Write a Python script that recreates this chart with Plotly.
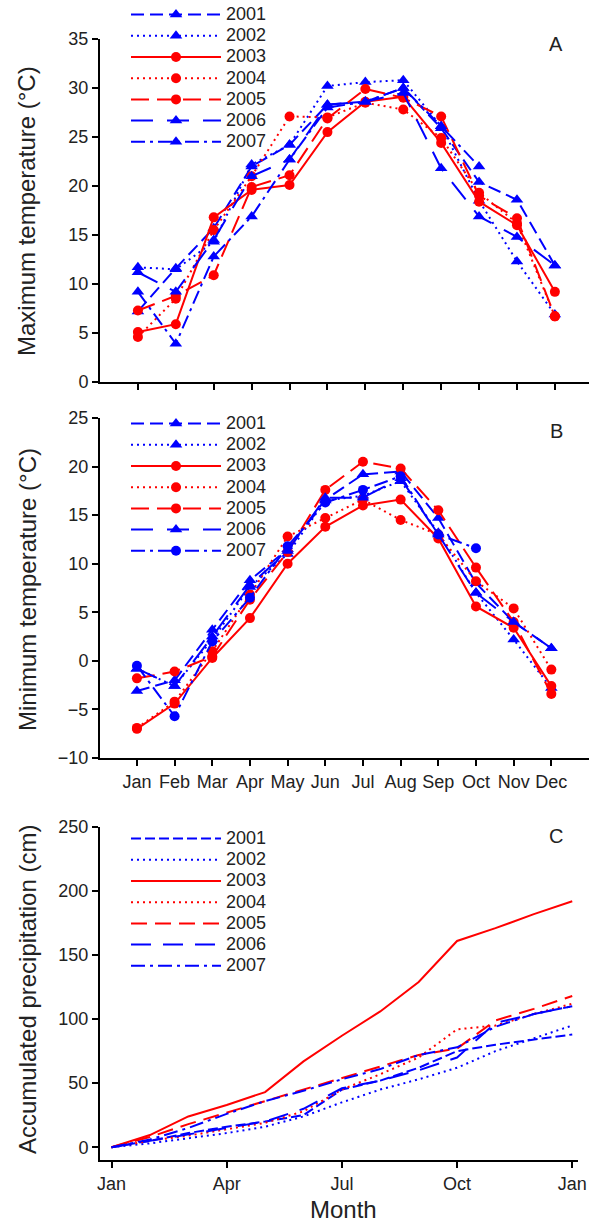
import plotly.graph_objects as go

# ---------------- data ----------------
months = ["Jan", "Feb", "Mar", "Apr", "May", "Jun", "Jul", "Aug", "Sep", "Oct", "Nov", "Dec"]
month_pos = [1, 2, 3, 4, 5, 6, 7, 8, 9, 10, 11, 12]
years = ["2001", "2002", "2003", "2004", "2005", "2006", "2007"]

# Panel A: maximum temperature (deg C)
tmax_2001 = [7.2, 11.6, 15.7, 22.0, 24.2, 28.3, 28.6, 30.0, 25.9, 20.4, 18.6, 11.9]
tmax_2002 = [11.7, 11.5, 14.3, 22.2, 24.2, 30.2, 30.6, 30.8, 26.1, 18.5, 12.3, 6.9]
tmax_2003 = [5.1, 5.9, 16.8, 19.6, 20.1, 25.5, 28.6, 29.1, 24.4, 18.4, 16.0, 9.2]
tmax_2004 = [4.6, 8.5, 15.5, 21.0, 27.1, 27.0, 28.5, 27.8, 24.9, 19.3, 16.2, 6.7]
tmax_2005 = [7.3, 8.8, 10.9, 19.9, 21.1, 26.9, 29.9, 29.0, 27.1, 19.0, 16.7, 6.7]
tmax_2006 = [11.2, 9.2, 14.5, 21.0, 22.7, 28.3, 28.6, 29.5, 21.8, 16.9, 14.8, 11.9]
tmax_2007 = [9.2, 3.9, 12.8, 16.9, 22.7, 28.0, 28.6, 30.0, 26.1, 22.0, None, None]

# Panel B: minimum temperature (deg C)
tmin_2001 = [-3.1, -2.0, 3.2, 8.3, 11.5, 16.6, 19.2, 19.5, 14.7, 8.0, 4.0, 1.3]
tmin_2002 = [-0.8, -2.6, 2.2, 7.6, 11.0, 16.5, 17.0, 18.5, 13.2, 7.0, 2.2, -2.8]
tmin_2003 = [-7.0, -4.4, 0.3, 4.4, 10.0, 13.8, 16.0, 16.6, 12.6, 5.6, 3.4, -2.6]
tmin_2004 = [-6.9, -4.2, 1.0, 6.8, 12.8, 14.7, 16.6, 14.5, 13.0, 8.2, 5.4, -0.9]
tmin_2005 = [-1.8, -1.1, 0.45, 6.3, 11.2, 17.6, 20.5, 19.8, 15.5, 9.6, 4.0, -3.4]
tmin_2006 = [-0.8, -2.6, 2.5, 7.8, 11.3, 16.8, 16.8, 18.8, 13.0, 7.0, 4.0, 1.3]
tmin_2007 = [-0.5, -5.7, 2.0, 6.5, 11.8, 16.3, 17.6, 19.0, 13.0, 11.6, None, None]

# Panel C: accumulated precipitation (cm), at month boundaries (0 = 1 Jan, 12 = next 1 Jan)
precip_pos = [0, 1, 2, 3, 4, 5, 6, 7, 8, 9, 10, 11, 12]
precip_ticks = [0, 3, 6, 9, 12]
precip_ticklabels = ["Jan", "Apr", "Jul", "Oct", "Jan"]
prec_2001 = [0, 5, 11, 16, 20, 25, 45, 52, 62, 75, 80, 84, 88]
prec_2002 = [0, 3, 7, 11, 16, 24, 35, 45, 53, 62, 75, 85, 95]
prec_2003 = [0, 9.5, 24, 33, 43, 67, 87, 106, 129, 161, 171, 182, 192]
prec_2004 = [0, 5, 9, 14, 19, 28, 45, 57, 70, 92, 95, 104, 112]
prec_2005 = [0, 8, 18, 27, 36, 45, 54, 63, 72, 77, 99, 108, 118]
prec_2006 = [0, 5, 10, 15, 20, 30, 46, 52, 60, 70, 97, 104, 110]
prec_2007 = [0, 6, 15, 26, 36, 44, 53, 61, 72, 78, 94, 104, 110]

tmax = [tmax_2001, tmax_2002, tmax_2003, tmax_2004, tmax_2005, tmax_2006, tmax_2007]
tmin = [tmin_2001, tmin_2002, tmin_2003, tmin_2004, tmin_2005, tmin_2006, tmin_2007]
prec = [prec_2001, prec_2002, prec_2003, prec_2004, prec_2005, prec_2006, prec_2007]

# ---------------- styles ----------------
BLUE = "#0000ff"
RED = "#ff0000"
colors = [BLUE, BLUE, RED, RED, RED, BLUE, BLUE]
dashes_T = ["13px,6px", "2px,4px", "solid", "2px,4px", "18px,8px", "22px,14px", "14px,5px,3px,5px"]
dashes_C = ["10px,4px", "2px,4px", "solid", "2px,4px", "16px,8px", "20px,12px", "14px,5px,3px,5px"]
sym_A = ["triangle-up", "triangle-up", "circle", "circle", "circle", "triangle-up", "triangle-up"]
sym_B = ["triangle-up", "triangle-up", "circle", "circle", "circle", "triangle-up", "circle"]

FONT = "Liberation Sans, Arial, Helvetica, sans-serif"
W, H = 589, 1226

fig = go.Figure()


def legname(y):
    return '<span style="font-size:18px">' + y + '</span>'


for i, y in enumerate(years):
    fig.add_trace(go.Scatter(
        x=month_pos, y=tmax[i], mode="lines+markers", name=legname(y),
        line=dict(color=colors[i], width=2, dash=dashes_T[i]),
        marker=dict(symbol=sym_A[i], size=10 if sym_A[i] == "circle" else 11, color=colors[i]),
        xaxis="x", yaxis="y", legend="legend", connectgaps=False))
for i, y in enumerate(years):
    fig.add_trace(go.Scatter(
        x=month_pos, y=tmin[i], mode="lines+markers", name=legname(y),
        line=dict(color=colors[i], width=2, dash=dashes_T[i]),
        marker=dict(symbol=sym_B[i], size=10 if sym_B[i] == "circle" else 11, color=colors[i]),
        xaxis="x2", yaxis="y2", legend="legend2", connectgaps=False))
for i, y in enumerate(years):
    fig.add_trace(go.Scatter(
        x=precip_pos, y=prec[i], mode="lines", name=legname(y),
        line=dict(color=colors[i], width=2, dash=dashes_C[i]),
        xaxis="x3", yaxis="y3", legend="legend3"))


def px_y(top_px):
    return 1 - top_px / H


axis_common = dict(showline=True, linecolor="black", linewidth=2, ticks="outside",
                   ticklen=6, tickwidth=2, tickcolor="black", showgrid=False,
                   zeroline=False, tickfont=dict(family=FONT, size=18, color="#222"),
                   fixedrange=True)

xl = 100 / W
fig.update_layout(
    width=W, height=H, margin=dict(l=0, r=0, t=0, b=0, autoexpand=False),
    paper_bgcolor="white", plot_bgcolor="white",
    font=dict(family=FONT, color="#222"),
    xaxis=dict(domain=[xl, 1.0], range=[0.0, 12.9], tickvals=month_pos,
               showticklabels=False, anchor="y", **axis_common),
    yaxis=dict(domain=[px_y(382), px_y(39)], range=[0, 35], dtick=5,
               anchor="x", **axis_common),
    xaxis2=dict(domain=[xl, 1.0], range=[0.02, 13.0], tickvals=month_pos,
                ticktext=months, anchor="y2", **axis_common),
    yaxis2=dict(domain=[px_y(758), px_y(418)], range=[-10, 25], dtick=5,
                anchor="x2", **axis_common),
    xaxis3=dict(domain=[xl, 578 / W], range=[-0.3, 12.15], tickvals=precip_ticks,
                ticktext=precip_ticklabels, anchor="y3", **axis_common),
    yaxis3=dict(domain=[px_y(1160), px_y(827)], range=[-10, 250], dtick=50,
                anchor="x3", **axis_common),
)

leg_common = dict(xanchor="left", yanchor="top", bgcolor="rgba(0,0,0,0)",
                  font=dict(family=FONT, size=14, color="#222"),
                  itemwidth=90, tracegroupgap=0, itemclick=False, itemdoubleclick=False)
fig.update_layout(
    legend=dict(x=126 / W, y=px_y(-1), **leg_common),
    legend2=dict(x=126 / W, y=px_y(408), **leg_common),
    legend3=dict(x=126 / W, y=px_y(823), **leg_common),
)

ann = []
for letter, ytop in [("A", 44), ("B", 431), ("C", 836)]:
    ann.append(dict(text=letter, x=556 / W, y=px_y(ytop), xref="paper", yref="paper",
                    showarrow=False, xanchor="center", yanchor="middle",
                    font=dict(family=FONT, size=20, color="#222")))
for title, ymid in [("Maximum temperature (°C)", 211), ("Minimum temperature (°C)", 590),
                    ("Accumulated precipitation (cm)", 990)]:
    ann.append(dict(text=title, x=27 / W, y=px_y(ymid), xref="paper", yref="paper",
                    showarrow=False, textangle=-90, xanchor="center", yanchor="middle",
                    font=dict(family=FONT, size=24, color="#222")))
ann.append(dict(text="Month", x=343 / W, y=px_y(1209), xref="paper", yref="paper",
                showarrow=False, xanchor="center", yanchor="middle",
                font=dict(family=FONT, size=24, color="#222")))
fig.update_layout(annotations=ann)

fig.write_html("out.html", config={"displayModeBar": False},
               post_script="document.body.style.margin='0';document.body.style.padding='0';")
